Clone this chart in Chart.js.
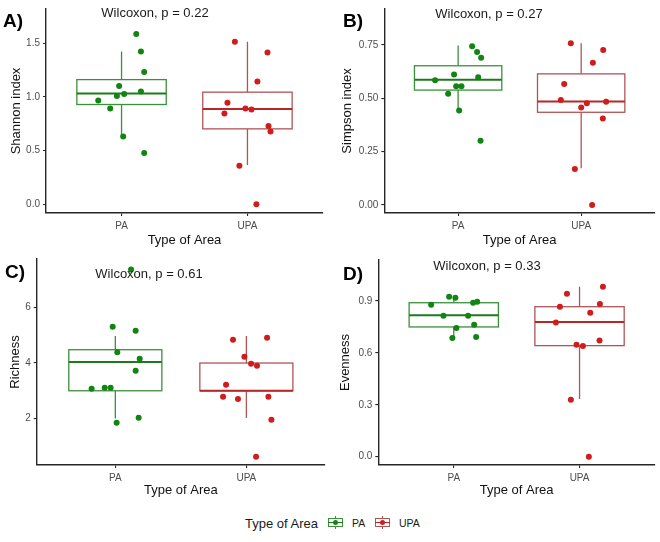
<!DOCTYPE html>
<html>
<head>
<meta charset="utf-8">
<script src="https://cdn.jsdelivr.net/npm/chart.js@4.4.1/dist/chart.umd.min.js"></script>
<style>
html,body{margin:0;padding:0;background:#fff;}
#wrap{position:relative;width:660px;height:542px;font-family:"Liberation Sans",Arial,sans-serif;overflow:hidden;}
.pane{position:absolute;width:330px;height:250px;}
.lab{position:absolute;font-weight:bold;font-size:19px;line-height:1;color:#000;transform:translateY(-50%);}
.wil{position:absolute;font-size:13px;line-height:1;color:#1a1a1a;white-space:nowrap;transform:translate(-50%,-50%);}
.lgt{position:absolute;font-size:13px;line-height:1;color:#1a1a1a;white-space:nowrap;transform:translateY(-50%);}
.lgl{position:absolute;font-size:10.5px;line-height:1;color:#1a1a1a;white-space:nowrap;transform:translateY(-50%);}
.key{position:absolute;width:17px;height:13px;}
.key i{position:absolute;display:block;}
.key .wh{left:8px;top:0;width:1px;height:13px;}
.key .bx{left:1px;top:2px;width:13px;height:7px;background:#fff;border-style:solid;border-width:1px;}
.key .md{left:1px;top:6px;width:15px;height:1.4px;}
.key .dt{left:6px;top:4px;width:5px;height:5px;border-radius:50%;}
</style>
</head>
<body>
<div id="wrap">
  <canvas id="cA" class="pane" width="330" height="250" style="left:0;top:0"></canvas>
  <canvas id="cB" class="pane" width="330" height="250" style="left:330px;top:0"></canvas>
  <canvas id="cC" class="pane" width="330" height="250" style="left:0;top:250px"></canvas>
  <canvas id="cD" class="pane" width="330" height="250" style="left:330px;top:250px"></canvas>

  <div class="lab" style="left:3px;top:20px">A)</div>
  <div class="lab" style="left:343px;top:20px">B)</div>
  <div class="lab" style="left:5px;top:271px">C)</div>
  <div class="lab" style="left:343px;top:273px">D)</div>

  <div class="wil" style="left:155px;top:12px">Wilcoxon, p = 0.22</div>
  <div class="wil" style="left:489px;top:13px">Wilcoxon, p = 0.27</div>
  <div class="wil" style="left:149px;top:273px">Wilcoxon, p = 0.61</div>
  <div class="wil" style="left:487px;top:265px">Wilcoxon, p = 0.33</div>

  <div class="lgt" style="left:245px;top:523px">Type of Area</div>
  <div class="key" id="kPA" style="left:327px;top:516px"><i class="wh"></i><i class="bx"></i><i class="md"></i><i class="dt"></i></div>
  <div class="lgl" style="left:352px;top:523px">PA</div>
  <div class="key" id="kUPA" style="left:374px;top:516px"><i class="wh"></i><i class="bx"></i><i class="md"></i><i class="dt"></i></div>
  <div class="lgl" style="left:399px;top:523px">UPA</div>
</div>

<script>
// ---------------- DATA ----------------
const categories = ['PA', 'UPA'];

// A) Shannon index
const shannonPA        = [1.586, 1.423, 1.234, 1.102, 1.051, 1.027, 1.009, 0.967, 0.892, 0.631, 0.477];
const shannonPAJitter  = [0.117, 0.154, 0.180, -0.019, 0.154, 0.021, -0.037, -0.185, -0.090, 0.013, 0.180];
const shannonUPA       = [1.514, 1.414, 1.144, 0.946, 0.847, 0.892, 0.883, 0.730, 0.679, 0.360, 0.000];
const shannonUPAJitter = [-0.100, 0.159, 0.079, -0.159, -0.183, -0.016, 0.032, 0.167, 0.183, -0.064, 0.071];
const shannonBoxPA     = [0.631, 0.930, 1.033, 1.162, 1.423];   // low whisker, Q1, median, Q3, high whisker
const shannonBoxUPA    = [0.366, 0.703, 0.889, 1.045, 1.514];
const shannonTicks     = [0, 0.5, 1.0, 1.5];
const shannonRange     = [-0.081, 1.82];

// B) Simpson index
const simpsonPA        = [0.744, 0.716, 0.689, 0.611, 0.598, 0.584, 0.556, 0.556, 0.521, 0.442, 0.300];
const simpsonPAJitter  = [0.114, 0.154, 0.187, -0.033, 0.163, -0.187, -0.016, 0.027, -0.081, 0.008, 0.182];
const simpsonUPA       = [0.758, 0.726, 0.666, 0.566, 0.492, 0.483, 0.476, 0.456, 0.405, 0.168, 0.000];
const simpsonUPAJitter = [-0.084, 0.179, 0.095, -0.138, -0.165, 0.203, 0.046, 0.000, 0.176, -0.051, 0.089];
const simpsonBoxPA     = [0.442, 0.538, 0.587, 0.652, 0.747];
const simpsonBoxUPA    = [0.172, 0.434, 0.485, 0.614, 0.758];
const simpsonTicks     = [0, 0.25, 0.50, 0.75];
const simpsonRange     = [-0.038, 0.918];

// C) Richness
const richnessPA        = [7.375, 5.31, 5.165, 4.384, 4.156, 3.724, 3.075, 3.111, 3.111, 2.03, 1.85];
const richnessPAJitter  = [0.120, -0.020, 0.155, 0.015, 0.186, 0.155, -0.181, -0.081, -0.036, 0.178, 0.010];
const richnessUPA       = [4.913, 4.84, 4.228, 3.976, 3.904, 3.22, 2.787, 2.787, 2.703, 1.958, 0.625];
const richnessUPAJitter = [0.158, -0.102, -0.015, 0.036, 0.081, -0.155, -0.178, 0.168, -0.064, 0.191, 0.074];
const richnessBoxPA     = [2.00, 3.00, 4.04, 4.48, 4.97];
const richnessBoxUPA    = [2.02, 3.00, 3.00, 4.00, 4.97];
const richnessTicks     = [2, 4, 6];
const richnessRange     = [0.324, 7.75];

// D) Evenness
const evennessPA        = [0.925, 0.919, 0.896, 0.890, 0.879, 0.815, 0.815, 0.763, 0.744, 0.686, 0.692];
const evennessPAJitter  = [-0.037, 0.013, 0.186, 0.154, -0.180, -0.082, 0.114, 0.162, 0.021, -0.011, 0.178];
const evennessUPA       = [0.983, 0.942, 0.882, 0.867, 0.832, 0.775, 0.672, 0.647, 0.640, 0.329, 0.000];
const evennessUPAJitter = [0.186, -0.100, 0.162, -0.156, 0.085, -0.188, 0.159, -0.024, 0.027, -0.069, 0.074];
const evennessBoxPA     = [0.686, 0.750, 0.817, 0.890, 0.925];
const evennessBoxUPA    = [0.333, 0.642, 0.778, 0.867, 0.983];
const evennessTicks     = [0, 0.3, 0.6, 0.9];
const evennessRange     = [-0.048, 1.137];

// ---------------- STYLE ----------------
const FONT = '"Liberation Sans", Arial, sans-serif';
const COLORS = {
  PA:  {box: '#3a913a', median: '#1c7a1c', point: '#118411'},
  UPA: {box: '#b05456', median: '#b82626', point: '#cf1c1c'}
};
const BOX_WIDTH = 0.71;
const AXIS_COLOR = '#262626';

// legend keys
[['kPA', COLORS.PA], ['kUPA', COLORS.UPA]].forEach(([id, c]) => {
  const k = document.getElementById(id);
  k.querySelector('.wh').style.background = c.box;
  k.querySelector('.bx').style.borderColor = c.box;
  k.querySelector('.md').style.background = c.median;
  k.querySelector('.dt').style.background = c.point;
});

const boxPlotPlugin = {
  id: 'boxPlot',
  beforeDatasetsDraw(chart, args, opts) {
    const ctx = chart.ctx, xs = chart.scales.x, ys = chart.scales.y;
    (opts.boxes || []).forEach((b, i) => {
      const [lo, q1, med, q3, hi] = b.stats;
      const c = i + 1;
      const xl = xs.getPixelForValue(c - BOX_WIDTH / 2);
      const xr = xs.getPixelForValue(c + BOX_WIDTH / 2);
      const xc = xs.getPixelForValue(c);
      const yLo = ys.getPixelForValue(lo), yQ1 = ys.getPixelForValue(q1);
      const yMed = ys.getPixelForValue(med), yQ3 = ys.getPixelForValue(q3);
      const yHi = ys.getPixelForValue(hi);
      ctx.save();
      ctx.strokeStyle = b.color.box;
      ctx.lineWidth = 1.3;
      ctx.beginPath();
      ctx.moveTo(xc, yQ3); ctx.lineTo(xc, yHi);
      ctx.moveTo(xc, yQ1); ctx.lineTo(xc, yLo);
      ctx.stroke();
      ctx.fillStyle = '#ffffff';
      ctx.fillRect(xl, yQ3, xr - xl, yQ1 - yQ3);
      ctx.strokeRect(xl, yQ3, xr - xl, yQ1 - yQ3);
      ctx.strokeStyle = b.color.median;
      ctx.lineWidth = 2;
      ctx.beginPath();
      ctx.moveTo(xl, yMed); ctx.lineTo(xr, yMed);
      ctx.stroke();
      ctx.restore();
    });
  }
};

function points(values, jitter, catIndex) {
  return values.map((v, i) => ({x: catIndex + 1 + jitter[i], y: v}));
}

function makePanel(id, p) {
  const decimals = p.decimals;
  new Chart(document.getElementById(id), {
    type: 'scatter',
    data: {
      datasets: [
        {label: categories[0], data: points(p.pa, p.paJ, 0), backgroundColor: COLORS.PA.point,
         borderColor: COLORS.PA.point, pointRadius: 3, borderWidth: 0},
        {label: categories[1], data: points(p.upa, p.upaJ, 1), backgroundColor: COLORS.UPA.point,
         borderColor: COLORS.UPA.point, pointRadius: 3, borderWidth: 0}
      ]
    },
    plugins: [boxPlotPlugin],
    options: {
      responsive: false,
      animation: false,
      events: [],
      layout: {autoPadding: false, padding: {left: 0, top: p.area.top, right: 330 - p.area.right, bottom: 0}},
      plugins: {
        legend: {display: false},
        tooltip: {enabled: false},
        boxPlot: {boxes: [{stats: p.boxPA, color: COLORS.PA}, {stats: p.boxUPA, color: COLORS.UPA}]}
      },
      scales: {
        x: {
          type: 'linear', min: 0.4, max: 2.6, bounds: 'data',
          afterBuildTicks: s => { s.ticks = categories.map((c, i) => ({value: i + 1})); },
          afterFit: s => { s.height = 250 - p.area.bottom; },
          ticks: {callback: v => categories[v - 1], color: '#4d4d4d', font: {family: FONT, size: 10}, padding: 4, maxRotation: 0, autoSkip: false},
          grid: {display: true, drawOnChartArea: false, drawTicks: true, tickLength: 3, color: AXIS_COLOR, lineWidth: 1.1},
          border: {display: true, color: AXIS_COLOR, width: 1.4},
          title: {display: true, text: 'Type of Area', color: '#111', font: {family: FONT, size: 13}, padding: {top: 0, bottom: 2}}
        },
        y: {
          type: 'linear', min: p.range[0], max: p.range[1], bounds: 'data',
          afterBuildTicks: s => { s.ticks = p.ticks.map(v => ({value: v})); },
          afterFit: s => { s.width = p.area.left; },
          ticks: {callback: v => Number(v).toFixed(decimals), color: '#4d4d4d', font: {family: FONT, size: 10}, padding: 3},
          grid: {display: true, drawOnChartArea: false, drawTicks: true, tickLength: 3, color: AXIS_COLOR, lineWidth: 1.1},
          border: {display: true, color: AXIS_COLOR, width: 1.4},
          title: {display: true, text: p.yTitle, color: '#111', font: {family: FONT, size: 13}, padding: {top: p.titlePad, bottom: 0}}
        }
      }
    }
  });
}

makePanel('cA', {pa: shannonPA, paJ: shannonPAJitter, upa: shannonUPA, upaJ: shannonUPAJitter,
  boxPA: shannonBoxPA, boxUPA: shannonBoxUPA, ticks: shannonTicks, range: shannonRange, decimals: 1,
  yTitle: 'Shannon index', titlePad: 9, area: {left: 46, right: 323, top: 2, bottom: 213}});
makePanel('cB', {pa: simpsonPA, paJ: simpsonPAJitter, upa: simpsonUPA, upaJ: simpsonUPAJitter,
  boxPA: simpsonBoxPA, boxUPA: simpsonBoxUPA, ticks: simpsonTicks, range: simpsonRange, decimals: 2,
  yTitle: 'Simpson index', titlePad: 9.5, area: {left: 54.3, right: 325, top: 4, bottom: 213}});
makePanel('cC', {pa: richnessPA, paJ: richnessPAJitter, upa: richnessUPA, upaJ: richnessUPAJitter,
  boxPA: richnessBoxPA, boxUPA: richnessBoxUPA, ticks: richnessTicks, range: richnessRange, decimals: 0,
  yTitle: 'Richness', titlePad: 7.5, area: {left: 36.7, right: 325, top: 9, bottom: 215}});
makePanel('cD', {pa: evennessPA, paJ: evennessPAJitter, upa: evennessUPA, upaJ: evennessUPAJitter,
  boxPA: evennessBoxPA, boxUPA: evennessBoxUPA, ticks: evennessTicks, range: evennessRange, decimals: 1,
  yTitle: 'Evenness', titlePad: 8, area: {left: 48.3, right: 325, top: 10, bottom: 215}});
</script>
</body>
</html>
